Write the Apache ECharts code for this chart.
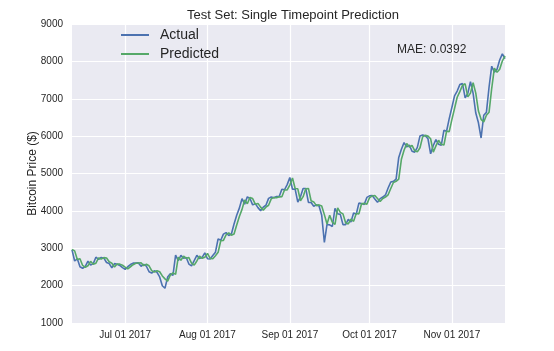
<!DOCTYPE html>
<html>
<head>
<meta charset="utf-8">
<script src="https://cdn.jsdelivr.net/npm/echarts@6/dist/echarts.min.js"></script>
<style>
  html, body { margin: 0; padding: 0; background: #fff; }
  #main-chart { width: 554px; height: 351px; }
</style>
</head>
<body>
<div id="main-chart"></div>
<script>
// daily closes, 2017-06-11 .. 2017-11-21
const startDate = "2017-06-11";

const actual = [
  2958, 2659, 2717, 2506, 2464, 2518, 2655, 2548, 2590, 2761,
  2705, 2753, 2735, 2618, 2590, 2478, 2589, 2572, 2539, 2480,
  2434, 2506, 2564, 2601, 2602, 2608, 2518, 2571, 2519, 2372,
  2337, 2398, 2357, 2233, 1998, 1929, 2228, 2318, 2273, 2817,
  2667, 2810, 2730, 2754, 2577, 2529, 2671, 2809, 2726, 2758,
  2875, 2718, 2711, 2804, 2895, 3252, 3213, 3378, 3419, 3342,
  3381, 3650, 3884, 4073, 4325, 4181, 4376, 4331, 4160, 4193,
  4087, 4001, 4100, 4151, 4334, 4371, 4352, 4382, 4382, 4579,
  4565, 4703, 4892, 4578, 4582, 4236, 4376, 4597, 4599, 4228,
  4226, 4122, 4161, 4130, 3882, 3154, 3637, 3625, 3582, 4065,
  3925, 3906, 3631, 3631, 3776, 3703, 3942, 3910, 4208, 4195,
  4174, 4360, 4403, 4409, 4318, 4229, 4328, 4370, 4426, 4611,
  4773, 4789, 4848, 5430, 5649, 5826, 5710, 5760, 5595, 5572,
  5699, 6005, 6031, 6008, 5930, 5526, 5750, 5905, 5780, 5753,
  6154, 6130, 6468, 6767, 7078, 7207, 7379, 7407, 7022, 7144,
  7459, 7143, 6618, 6357, 5950, 6559, 6635, 7315, 7871, 7708,
  7790, 8036, 8200, 8071
];

const predicted = [
  2970, 2930, 2700, 2720, 2540, 2490, 2530, 2650, 2570, 2600,
  2740, 2710, 2750, 2740, 2640, 2600, 2500, 2580, 2575, 2545,
  2495, 2450, 2505, 2560, 2600, 2605, 2610, 2535, 2570, 2530,
  2400, 2360, 2400, 2370, 2260, 2180, 2120, 2280, 2340, 2300,
  2760, 2680, 2790, 2730, 2750, 2600, 2550, 2660, 2790, 2730,
  2760, 2860, 2730, 2720, 2800, 2890, 3200, 3210, 3360, 3410,
  3350, 3380, 3620, 3850, 4040, 4290, 4190, 4360, 4330, 4180,
  4200, 4100, 4020, 4100, 4150, 4320, 4360, 4350, 4375, 4380,
  4560, 4560, 4690, 4880, 4600, 4590, 4270, 4380, 4590, 4600,
  4270, 4240, 4140, 4160, 4130, 3900, 3650, 3880, 3700, 3640,
  4080, 3960, 3920, 3680, 3650, 3780, 3720, 3930, 3920, 4190,
  4200, 4180, 4350, 4400, 4410, 4330, 4250, 4330, 4370, 4430,
  4600, 4760, 4790, 4850, 5380, 5620, 5800, 5710, 5750, 5610,
  5580, 5690, 5980, 6020, 6000, 5930, 5570, 5740, 5890, 5780,
  5760, 6130, 6120, 6440, 6740, 7040, 7190, 7360, 7400, 7050,
  7150, 7430, 7150, 6670, 6450, 6380, 6560, 6640, 7280, 7820,
  7710, 7790, 8010, 8150
];

const yTicks = [1000, 9000, 1000]; // min, max, step

const months = ["Jan", "Feb", "Mar", "Apr", "May", "Jun", "Jul", "Aug", "Sep", "Oct", "Nov", "Dec"];

// one category per day
const categories = [];
const d0 = new Date(startDate + "T00:00:00Z");
for (let i = 0; i < actual.length; i++) {
  const d = new Date(d0.getTime() + i * 86400000);
  const dd = String(d.getUTCDate()).padStart(2, "0");
  categories.push(`${months[d.getUTCMonth()]} ${dd} ${d.getUTCFullYear()}`);
}

const isMonthStart = (idx, val) => categories[idx].slice(4, 6) === "01";

const font = "Liberation Sans, Arial, sans-serif";
const chart = echarts.init(document.getElementById("main-chart"));

chart.setOption({
  animation: false,
  textStyle: { fontFamily: font },
  title: {
    text: "Test Set: Single Timepoint Prediction",
    left: 288,
    textAlign: "center",
    top: 4,
    textStyle: { fontSize: 13, fontWeight: "normal", color: "#262626", fontFamily: font }
  },
  legend: {
    orient: "vertical",
    left: 116,
    top: 22,
    itemWidth: 28,
    itemHeight: 2,
    itemGap: 3,
    icon: "rect",
    textStyle: { fontSize: 14, color: "#262626", padding: [0, 0, 0, 6], lineHeight: 16, fontFamily: font },
    data: ["Actual", "Predicted"]
  },
  graphic: [{
    type: "text",
    left: 397,
    top: 44,
    style: { text: "MAE: 0.0392", fontSize: 12, fill: "#262626", fontFamily: font }
  }],
  grid: {
    left: 72,
    right: 49,
    top: 24,
    bottom: 28,
    show: true,
    backgroundColor: "#EAEAF2",
    borderWidth: 0
  },
  xAxis: {
    type: "category",
    data: categories,
    boundaryGap: false,
    axisLine: { show: false },
    axisTick: { show: false },
    axisLabel: { interval: isMonthStart, fontSize: 10, color: "#262626", margin: 7, fontFamily: font },
    splitLine: { show: true, interval: isMonthStart, lineStyle: { color: "#ffffff", width: 1.2 } }
  },
  yAxis: {
    type: "value",
    min: yTicks[0],
    max: yTicks[1],
    interval: yTicks[2],
    name: "Bitcoin Price ($)",
    nameLocation: "middle",
    nameGap: 33,
    nameMoveOverlap: false,
    nameTextStyle: { fontSize: 12, color: "#262626", fontFamily: font },
    axisLine: { show: false },
    axisTick: { show: false },
    axisLabel: { fontSize: 10, color: "#262626", margin: 9, fontFamily: font, formatter: v => String(v) },
    splitLine: { lineStyle: { color: "#ffffff", width: 1.2 } }
  },
  series: [
    {
      name: "Actual",
      type: "line",
      data: actual,
      showSymbol: false,
      symbol: "none",
      lineStyle: { color: "#4C72B0", width: 1.6 },
      itemStyle: { color: "#4C72B0" }
    },
    {
      name: "Predicted",
      type: "line",
      data: predicted,
      showSymbol: false,
      symbol: "none",
      lineStyle: { color: "#55A868", width: 1.6 },
      itemStyle: { color: "#55A868" }
    }
  ]
});
</script>
</body>
</html>
